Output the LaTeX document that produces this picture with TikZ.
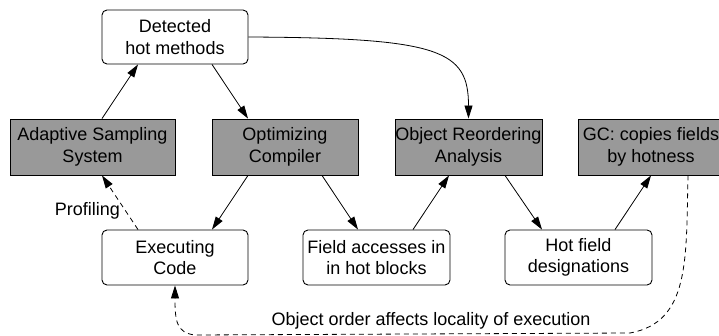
\documentclass[tikz,border=0pt]{standalone}
\usepackage{fontspec}
\setmainfont{Liberation Sans}
\usetikzlibrary{arrows.meta}
\definecolor{boxgray}{RGB}{153,153,153}
\begin{document}
\begin{tikzpicture}[x=1pt,y=1pt,
  base/.style={draw, line width=0.9pt, align=center, inner sep=0pt,
    font=\fontsize{18}{21.5}\selectfont},
  roundbox/.style={base, rounded corners=5pt, fill=white},
  graybox/.style={base, fill=boxgray},
  arr/.style={line width=0.8pt, -{Triangle[length=13pt,width=8pt]}},
  darr/.style={arr, dash pattern=on 5pt off 4pt},
  lbl/.style={font=\fontsize{18}{21.5}\selectfont, inner sep=0pt}]
\useasboundingbox (0,0) rectangle (719,-336);
\node[roundbox, minimum width=146pt, minimum height=54pt] (det) at (175,-37) {Detected\\hot methods};
\node[graybox, minimum width=165pt, minimum height=56pt] (ada) at (92.5,-147) {Adaptive Sampling\\System};
\node[graybox, minimum width=146pt, minimum height=56pt] (opt) at (285,-147) {Optimizing\\Compiler};
\node[graybox, minimum width=147pt, minimum height=56pt] (obj) at (468.5,-147) {Object Reordering\\Analysis};
\node[graybox, minimum width=146pt, minimum height=56pt] (gc) at (651,-147) {GC: copies fields\\by hotness};
\node[roundbox, minimum width=146pt, minimum height=55pt] (exe) at (175,-257.5) {Executing\\Code};
\node[roundbox, minimum width=147pt, minimum height=55pt] (fld) at (376.5,-257.5) {Field accesses in\\in hot blocks};
\node[roundbox, minimum width=147pt, minimum height=55pt] (hot) at (578.5,-257.5) {Hot field\\designations};
\node[lbl] (prof) at (87.5,-211) {Profiling};
\node[lbl] (order) at (431,-321) {Object order affects locality of execution};
\draw[arr] ([xshift=9.5pt]ada.north) -- ([xshift=-37pt]det.south);
\draw[arr] ([xshift=37pt]det.south) -- ([xshift=-37pt]opt.north);
\draw[arr] (det.east) .. controls (440,-38) and (468.5,-50) .. (obj.north);
\draw[arr] ([xshift=-37pt]opt.south) -- ([xshift=37pt]exe.north);
\draw[arr] ([xshift=37pt]opt.south) -- ([xshift=-18.5pt]fld.north);
\draw[arr] ([xshift=36.5pt]fld.north) -- ([xshift=-19.5pt]obj.south);
\draw[arr] ([xshift=36.5pt]obj.south) -- ([xshift=-36.5pt]hot.north);
\draw[arr] ([xshift=36.5pt]hot.north) -- (gc.south);
\draw[darr] ([xshift=-37pt]exe.north) -- ([xshift=9.5pt]ada.south);
\draw[darr] ([xshift=37pt]gc.south) .. controls (686,-260) and (690,-322) .. (630,-333)
  -- (195,-335) .. controls (176,-333) and (175,-320) .. (exe.south);
\end{tikzpicture}
\end{document}
